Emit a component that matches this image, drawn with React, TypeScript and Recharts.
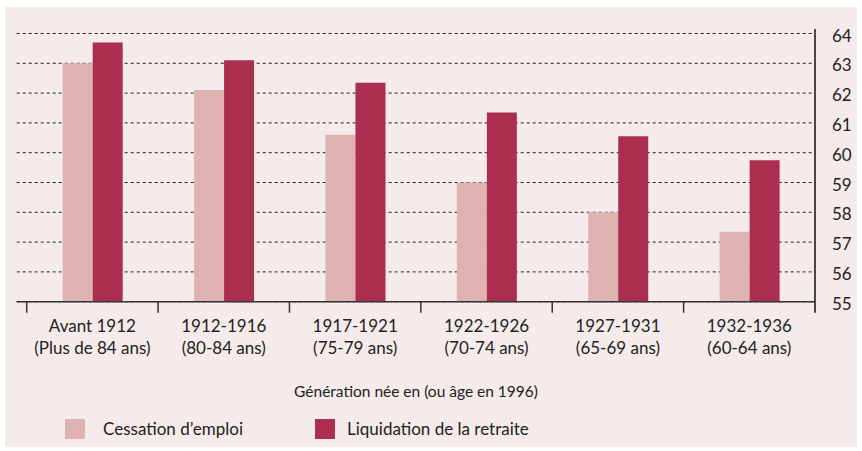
import React from 'react';
import { BarChart, Bar, XAxis, YAxis, CartesianGrid } from 'recharts';

const generations = ['Avant 1912', '1912-1916', '1917-1921', '1922-1926', '1927-1931', '1932-1936'];
const ages = ['(Plus de 84 ans)', '(80-84 ans)', '(75-79 ans)', '(70-74 ans)', '(65-69 ans)', '(60-64 ans)'];
const cessation = [63.0, 62.1, 60.6, 59.0, 58.0, 57.35];
const liquidation = [63.7, 63.1, 62.35, 61.35, 60.55, 59.75];
const yTicks = [55, 56, 57, 58, 59, 60, 61, 62, 63, 64];

const data = generations.map((g, i) => ({
  gen: g,
  cessation: cessation[i],
  liquidation: liquidation[i],
}));

const FONT = 'Lato, "Open Sans", sans-serif';
const LIGHT = '#dfb2b2';
const DARK = '#ab2d50';
const BG = '#f5ebea';

// layout
const W = 862;
const H = 451;
const PLOT_LEFT = 16.7;
const PLOT_RIGHT = 815;
const PLOT_TOP = 33.5;
const AXIS_Y = 301.7;
const PAD_LEFT = 10;
const BAND = (PLOT_RIGHT - PLOT_LEFT - PAD_LEFT) / generations.length;

const XTick = (props: any) => {
  const { x, index } = props;
  const half = BAND / 2;
  return (
    <g>
      <line x1={x - half} x2={x - half} y1={AXIS_Y} y2={AXIS_Y + 11} stroke="#333" strokeWidth={1.5} />
      {index === generations.length - 1 && (
        <line x1={x + half} x2={x + half} y1={AXIS_Y} y2={AXIS_Y + 11} stroke="#111" strokeWidth={1.5} />
      )}
      <text x={x} y={AXIS_Y + 30} textAnchor="middle" fill="#222" fontSize={17} fontFamily={FONT}>
        {generations[index]}
      </text>
      <text x={x} y={AXIS_Y + 52} textAnchor="middle" fill="#222" fontSize={17} fontFamily={FONT}>
        {ages[index]}
      </text>
    </g>
  );
};

const YTick = (props: any) => {
  const { y, payload, index } = props;
  return (
    <g>
      {index === yTicks.length - 1 && (
        <line x1={PLOT_RIGHT} x2={PLOT_RIGHT} y1={y - 4.5} y2={y} stroke="#111" strokeWidth={1.5} />
      )}
      <text x={832} y={y + 8} textAnchor="start" fill="#222" fontSize={17} fontFamily={FONT}>
        {payload.value}
      </text>
    </g>
  );
};

export default function App() {
  return (
    <div style={{ position: 'absolute', left: 0, top: 0, width: W, height: H, background: '#fff', fontFamily: FONT }}>
      <div style={{ position: 'absolute', left: 5, top: 7, width: 852, height: 440, background: BG }} />
      <div style={{ position: 'absolute', left: 0, top: 0 }}>
        <BarChart
          width={W}
          height={H}
          data={data}
          barSize={30}
          barGap={0}
          margin={{ top: PLOT_TOP, right: 0, left: PLOT_LEFT, bottom: H - AXIS_Y - 30 }}
        >
          <CartesianGrid horizontal vertical={false} stroke="#222" strokeDasharray="3 3" />
          <XAxis
            dataKey="gen"
            height={30}
            padding={{ left: PAD_LEFT, right: 0 }}
            axisLine={{ stroke: '#333', strokeWidth: 1.5 }}
            tickLine={false}
            tickSize={0}
            tickMargin={0}
            interval={0}
            tick={<XTick />}
          />
          <YAxis
            orientation="right"
            width={W - PLOT_RIGHT}
            domain={[55, 64]}
            ticks={yTicks}
            interval={0}
            allowDataOverflow
            axisLine={{ stroke: '#111', strokeWidth: 1.5 }}
            tickLine={false}
            tick={<YTick />}
          />
          <Bar dataKey="cessation" fill={LIGHT} isAnimationActive={false} />
          <Bar dataKey="liquidation" fill={DARK} isAnimationActive={false} />
        </BarChart>
      </div>
      <div style={{ position: 'absolute', left: 0, width: 832, top: 382, textAlign: 'center', fontSize: 15.5, color: '#222' }}>
        Génération née en (ou âge en 1996)
      </div>
      <div style={{ position: 'absolute', left: 65, top: 419, width: 20, height: 20, background: LIGHT }} />
      <div style={{ position: 'absolute', left: 103, top: 418, fontSize: 17, color: '#222', lineHeight: '22px' }}>
        Cessation d’emploi
      </div>
      <div style={{ position: 'absolute', left: 315, top: 419, width: 20, height: 20, background: DARK }} />
      <div style={{ position: 'absolute', left: 347, top: 418, fontSize: 17, color: '#222', lineHeight: '22px' }}>
        Liquidation de la retraite
      </div>
    </div>
  );
}
